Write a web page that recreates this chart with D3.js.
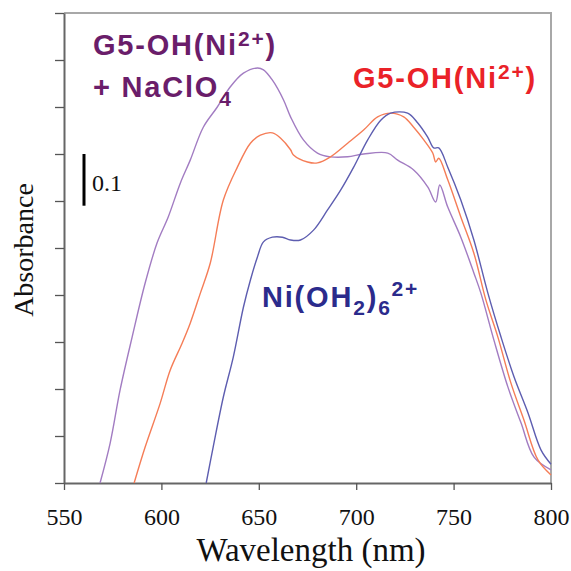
<!DOCTYPE html>
<html>
<head>
<meta charset="utf-8">
<script src="https://cdn.jsdelivr.net/npm/d3@7"></script>
<style>
  body { margin: 0; background: #fff; }
  .tick-label { font-family: "Liberation Serif", "Times New Roman", serif; font-size: 24px; fill: #111; }
  .axis-label { font-family: "Liberation Serif", "Times New Roman", serif; fill: #111; }
  .series-label { font-family: "Liberation Sans", Arial, sans-serif; font-weight: bold; font-size: 29px; letter-spacing: 1.8px; }
</style>
</head>
<body>
<div class="chart-container"></div>
<script>
// wavelength (nm) / absorbance (tick = 0.1)
const purpleWl = [568.5, 573.7, 578.8, 585.0, 591.7, 597.8, 603.5, 609.7, 614.8, 621.5, 628.7, 635.4, 642.1, 649.3, 652.4, 657.0, 662.7, 666.3, 672.9, 680.1, 686.8, 695.6, 703.8, 716.2, 721.3, 729.5, 736.7, 740.8, 742.9, 747.0, 753.7, 760.4, 764.0, 770.7, 777.9, 784.6, 791.3, 800];
const purpleAbs = [0.0, 0.085, 0.198, 0.311, 0.426, 0.511, 0.566, 0.638, 0.687, 0.757, 0.800, 0.843, 0.872, 0.883, 0.879, 0.857, 0.815, 0.779, 0.730, 0.702, 0.694, 0.694, 0.700, 0.702, 0.687, 0.666, 0.630, 0.598, 0.634, 0.587, 0.523, 0.447, 0.404, 0.304, 0.204, 0.128, 0.055, 0.028];

const orangeWl = [586.0, 591.7, 599.4, 604.5, 610.7, 614.8, 620.0, 625.1, 631.8, 639.0, 645.7, 650.8, 657.0, 661.1, 666.3, 667.8, 675.0, 680.1, 686.8, 695.6, 703.8, 711.0, 717.7, 724.4, 729.5, 734.7, 739.3, 740.8, 742.4, 747.0, 753.7, 760.4, 766.6, 772.7, 779.4, 786.1, 793.3, 800];
const orangeAbs = [0.0, 0.077, 0.170, 0.240, 0.298, 0.340, 0.404, 0.468, 0.602, 0.672, 0.723, 0.740, 0.745, 0.734, 0.709, 0.698, 0.683, 0.681, 0.694, 0.723, 0.751, 0.779, 0.787, 0.779, 0.757, 0.730, 0.702, 0.683, 0.691, 0.645, 0.566, 0.489, 0.389, 0.311, 0.213, 0.134, 0.049, 0.017];

const blueWl = [623.0, 626.6, 631.8, 636.9, 642.1, 645.7, 649.3, 652.4, 657.0, 662.1, 666.3, 671.4, 678.1, 685.3, 692.0, 698.7, 705.9, 712.6, 717.7, 726.4, 731.6, 736.7, 739.8, 742.4, 747.0, 753.7, 760.4, 767.6, 774.3, 781.0, 788.2, 794.9, 800];
const blueAbs = [0.0, 0.077, 0.183, 0.268, 0.374, 0.432, 0.481, 0.513, 0.523, 0.523, 0.517, 0.517, 0.538, 0.581, 0.623, 0.672, 0.730, 0.772, 0.787, 0.787, 0.766, 0.736, 0.713, 0.713, 0.672, 0.602, 0.517, 0.404, 0.311, 0.226, 0.149, 0.070, 0.040];

const xTicks = [550, 600, 650, 700, 750, 800];
const yTicks = [0, 0.1, 0.2, 0.3, 0.4, 0.5, 0.6, 0.7, 0.8, 0.9, 1.0];
const scaleBar = [0.59, 0.70];

const width = 571, height = 571;
const margin = {top: 13, right: 20, bottom: 88, left: 64};

const x = d3.scaleLinear().domain([550, 800]).range([margin.left, width - margin.right]);
const y = d3.scaleLinear().domain([0, 1]).range([height - margin.bottom, margin.top]);

const svg = d3.select(".chart-container").append("svg")
    .attr("width", width)
    .attr("height", height);

// light frame on top and right
svg.append("path")
    .attr("d", `M${x(550)},${y(1)}H${x(800)}V${y(0)}`)
    .attr("fill", "none")
    .attr("stroke", "#a8a8a8")
    .attr("stroke-width", 2);

const xAxis = svg.append("g")
    .attr("transform", `translate(0,${y(0)})`)
    .call(d3.axisBottom(x).tickValues(xTicks).tickSize(7).tickSizeOuter(0).tickPadding(18));
xAxis.select(".domain").attr("stroke", "#666").attr("stroke-width", 2);
xAxis.selectAll(".tick line").attr("stroke", "#555").attr("stroke-width", 1.3);
xAxis.selectAll(".tick text").attr("class", "tick-label").attr("font-size", null).attr("font-family", null);

const yAxis = svg.append("g")
    .attr("transform", `translate(${x(550)},0)`)
    .call(d3.axisLeft(y).tickValues(yTicks).tickSize(9).tickSizeOuter(0).tickFormat(""));
yAxis.select(".domain").attr("stroke", "#666").attr("stroke-width", 2);
yAxis.selectAll(".tick line").attr("stroke", "#555").attr("stroke-width", 1.3);

svg.append("text")
    .attr("class", "axis-label")
    .attr("x", 311).attr("y", 561)
    .attr("text-anchor", "middle")
    .attr("font-size", 33)
    .text("Wavelength (nm)");

svg.append("text")
    .attr("class", "axis-label")
    .attr("transform", "translate(33,250) rotate(-90)")
    .attr("text-anchor", "middle")
    .attr("font-size", 28)
    .text("Absorbance");

// scale bar
svg.append("line")
    .attr("x1", 84).attr("x2", 84)
    .attr("y1", y(scaleBar[1])).attr("y2", y(scaleBar[0]))
    .attr("stroke", "#000").attr("stroke-width", 3);
svg.append("text")
    .attr("class", "tick-label")
    .attr("x", 92).attr("y", 191)
    .text("0.1");

const line = d3.line()
    .curve(d3.curveCatmullRom.alpha(0.5))
    .x((d) => x(d[0]))
    .y((d) => y(d[1]));

const series = [
  {wl: purpleWl, abs: purpleAbs, color: "#a27cc2"},
  {wl: orangeWl, abs: orangeAbs, color: "#f57d57"},
  {wl: blueWl, abs: blueAbs, color: "#5d5db0"}
];

series.forEach((s) => {
  svg.append("path")
      .datum(d3.zip(s.wl, s.abs))
      .attr("fill", "none")
      .attr("stroke", s.color)
      .attr("stroke-width", 1.4)
      .attr("d", line);
});

// series labels
const lab1 = svg.append("text").attr("class", "series-label").attr("fill", "#6a1d6a")
    .attr("x", 93).attr("y", 55);
lab1.append("tspan").text("G5-OH(Ni");
lab1.append("tspan").attr("font-size", 21).attr("dy", -9).text("2+");
lab1.append("tspan").attr("dy", 9).text(")");

const lab2 = svg.append("text").attr("class", "series-label").attr("fill", "#6a1d6a")
    .attr("x", 93).attr("y", 97);
lab2.append("tspan").text("+ NaClO");
lab2.append("tspan").attr("font-size", 21).attr("dy", 9).text("4");

const lab3 = svg.append("text").attr("class", "series-label").attr("fill", "#ea2228")
    .attr("x", 353).attr("y", 88);
lab3.append("tspan").text("G5-OH(Ni");
lab3.append("tspan").attr("font-size", 21).attr("dy", -9).text("2+");
lab3.append("tspan").attr("dy", 9).text(")");

const lab4 = svg.append("text").attr("class", "series-label").attr("fill", "#2b2b8c")
    .attr("x", 262).attr("y", 307);
lab4.append("tspan").text("Ni(OH");
lab4.append("tspan").attr("font-size", 21).attr("dy", 8).text("2");
lab4.append("tspan").attr("dy", -8).text(")");
lab4.append("tspan").attr("font-size", 21).attr("dy", 8).text("6");
lab4.append("tspan").attr("font-size", 21).attr("dy", -19).text("2+");
</script>
</body>
</html>
